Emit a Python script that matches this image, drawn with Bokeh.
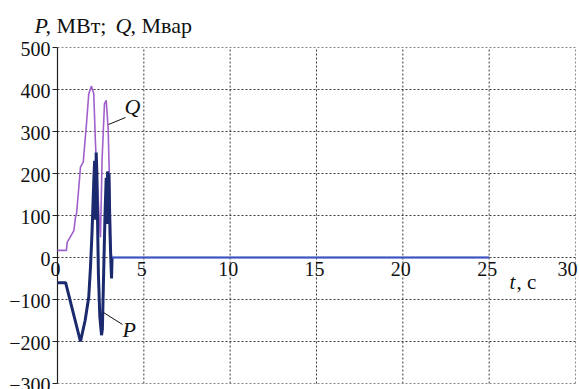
from bokeh.plotting import figure
from bokeh.models import Range1d, ColumnDataSource
from bokeh.core.properties import value
from bokeh.embed import file_html
from bokeh.resources import INLINE

# ---- data ----
q_t = [0, 0.52, 0.56, 0.95, 1.04, 1.1, 1.2, 1.33, 1.49, 1.68, 1.81, 1.97, 2.1, 2.2, 2.39, 2.49,
       2.58, 2.72, 2.82, 2.93, 3.03, 3.1, 3.15, 25]
q_v = [17, 17, 36, 64, 96, 104, 150, 215, 227, 319, 390, 408, 390, 271, 112, 48,
       231, 366, 374, 310, 152, 10, 0, 0]

p_t = [0, 0.47, 1.33, 1.6, 1.81, 1.91, 2.0, 2.1, 2.15, 2.2, 2.24, 2.28, 2.33, 2.37, 2.45, 2.55,
       2.6, 2.66, 2.75, 2.82, 2.86, 2.9, 2.94, 2.98, 3.04, 3.1, 3.13, 3.16]
p_v = [-60, -60, -200, -150, -94, -23, 60, 180, 230, 90, 250, 200, 60, -40, -140, -185,
       -170, -60, 100, 190, 80, 205, 110, 200, 60, -20, -50, 0]

z_t = [3.16, 25]
z_v = [0, 0]

x_ticks = [0, 5, 10, 15, 20, 25, 30]
x_tick_labels = ["0", "5", "10", "15", "20", "25", "30"]
y_ticks = [-300, -200, -100, 0, 100, 200, 300, 400, 500]
y_tick_labels = ["\u2212300", "\u2212200", "\u2212100", "0", "100", "200", "300", "400", "500"]

FONT = "Liberation Serif"
TXT = "#111111"

# frame geometry (pixels) used only to place the page-level texts
L, R, T, B = 57, 575, 47, 383
W, H = 579, 389
sx = (R - L) / (x_ticks[-1] - x_ticks[0])
sy = (B - T) / (y_ticks[-1] - y_ticks[0])


def dx(px):
    return x_ticks[0] + (px - L) / sx


def dy(py):
    return y_ticks[0] + (B - py) / sy


p = figure(width=W, height=H, output_backend="svg", toolbar_location=None,
           x_range=Range1d(dx(0), dx(W)), y_range=Range1d(dy(H), dy(0)),
           x_axis_location=None, y_axis_location=None,
           min_border=0, min_border_left=0, min_border_right=0,
           min_border_top=0, min_border_bottom=0)
p.background_fill_color = "white"
p.border_fill_color = "white"
p.outline_line_color = None
p.grid.visible = False

x0, x1 = x_ticks[0], x_ticks[-1]
y0, y1 = y_ticks[0], y_ticks[-1]

# grid (dotted), inner lines darker, frame edges lighter
inner_x = x_ticks[1:-1]
inner_y = y_ticks[1:-1]
p.segment(x0=inner_x, y0=[y0] * len(inner_x), x1=inner_x, y1=[y1] * len(inner_x),
          line_color="#3a3a3a", line_dash="2 2", line_width=1)
p.segment(x0=[x0] * len(inner_y), y0=inner_y, x1=[x1] * len(inner_y), y1=inner_y,
          line_color="#3a3a3a", line_dash="2 2", line_width=1)
p.segment(x0=[x0, x1, x0], y0=[y1, y0, y0], x1=[x1, x1, x1], y1=[y1, y1, y0],
          line_color="#8a8a8a", line_dash="2 2", line_width=1)

# y axis line and outward ticks
p.segment(x0=[x0], y0=[y0], x1=[x0], y1=[y1], line_color="#222222", line_width=1.2)
p.segment(x0=[dx(L - 5)] * len(y_ticks), y0=y_ticks, x1=[x0] * len(y_ticks), y1=y_ticks,
          line_color="#222222", line_width=1)

# curves
p.line(q_t, q_v, line_color="#a060cc", line_width=1.6)
p.line(p_t, p_v, line_color="#1b2a6e", line_width=3)
p.line(z_t, z_v, line_color="#3558c0", line_width=2.2)

# y tick labels
ysrc = ColumnDataSource(dict(x=[x0] * len(y_ticks), y=y_ticks, t=y_tick_labels))
p.text(x="x", y="y", text="t", source=ysrc, text_font=value(FONT), text_font_size="20px",
       text_align="right", text_baseline="middle", x_offset=-7, y_offset=1, text_color=TXT)

# x tick labels along the zero line
xsrc = ColumnDataSource(dict(x=x_ticks[:-1], y=[0] * (len(x_ticks) - 1), t=x_tick_labels[:-1]))
p.text(x="x", y="y", text="t", source=xsrc, text_font=value(FONT), text_font_size="20px",
       text_align="center", text_baseline="top", x_offset=-2, y_offset=4, text_color=TXT)
xsrc2 = ColumnDataSource(dict(x=x_ticks[-1:], y=[0], t=x_tick_labels[-1:]))
p.text(x="x", y="y", text="t", source=xsrc2, text_font=value(FONT), text_font_size="20px",
       text_align="right", text_baseline="top", x_offset=2, y_offset=4, text_color=TXT)


def lab(text, px, py_mid, italic=False, size="22px"):
    p.text(x=[dx(px)], y=[dy(py_mid)], text=[text], text_font=value(FONT), text_font_size=size,
           text_font_style="italic" if italic else "normal",
           text_baseline="middle", text_align="left", text_color=TXT)


# title
lab("P", 34, 25, True)
lab(", МВт;", 45, 25)
lab("Q", 115, 25, True)
lab(", Мвар", 130, 25)

# axis label
lab("t", 509, 281, True, "21px")
lab(", c", 516, 281, False, "21px")

# curve labels with leaders
lab("Q", 124, 106, True)
lab("P", 122, 329, True)
p.segment(x0=[dx(108), dx(103)], y0=[dy(124), dy(312)], x1=[dx(125), dx(122)], y1=[dy(117), dy(324)],
          line_color="#111111", line_width=1)

open("out.html", "w").write(file_html(p, INLINE))
